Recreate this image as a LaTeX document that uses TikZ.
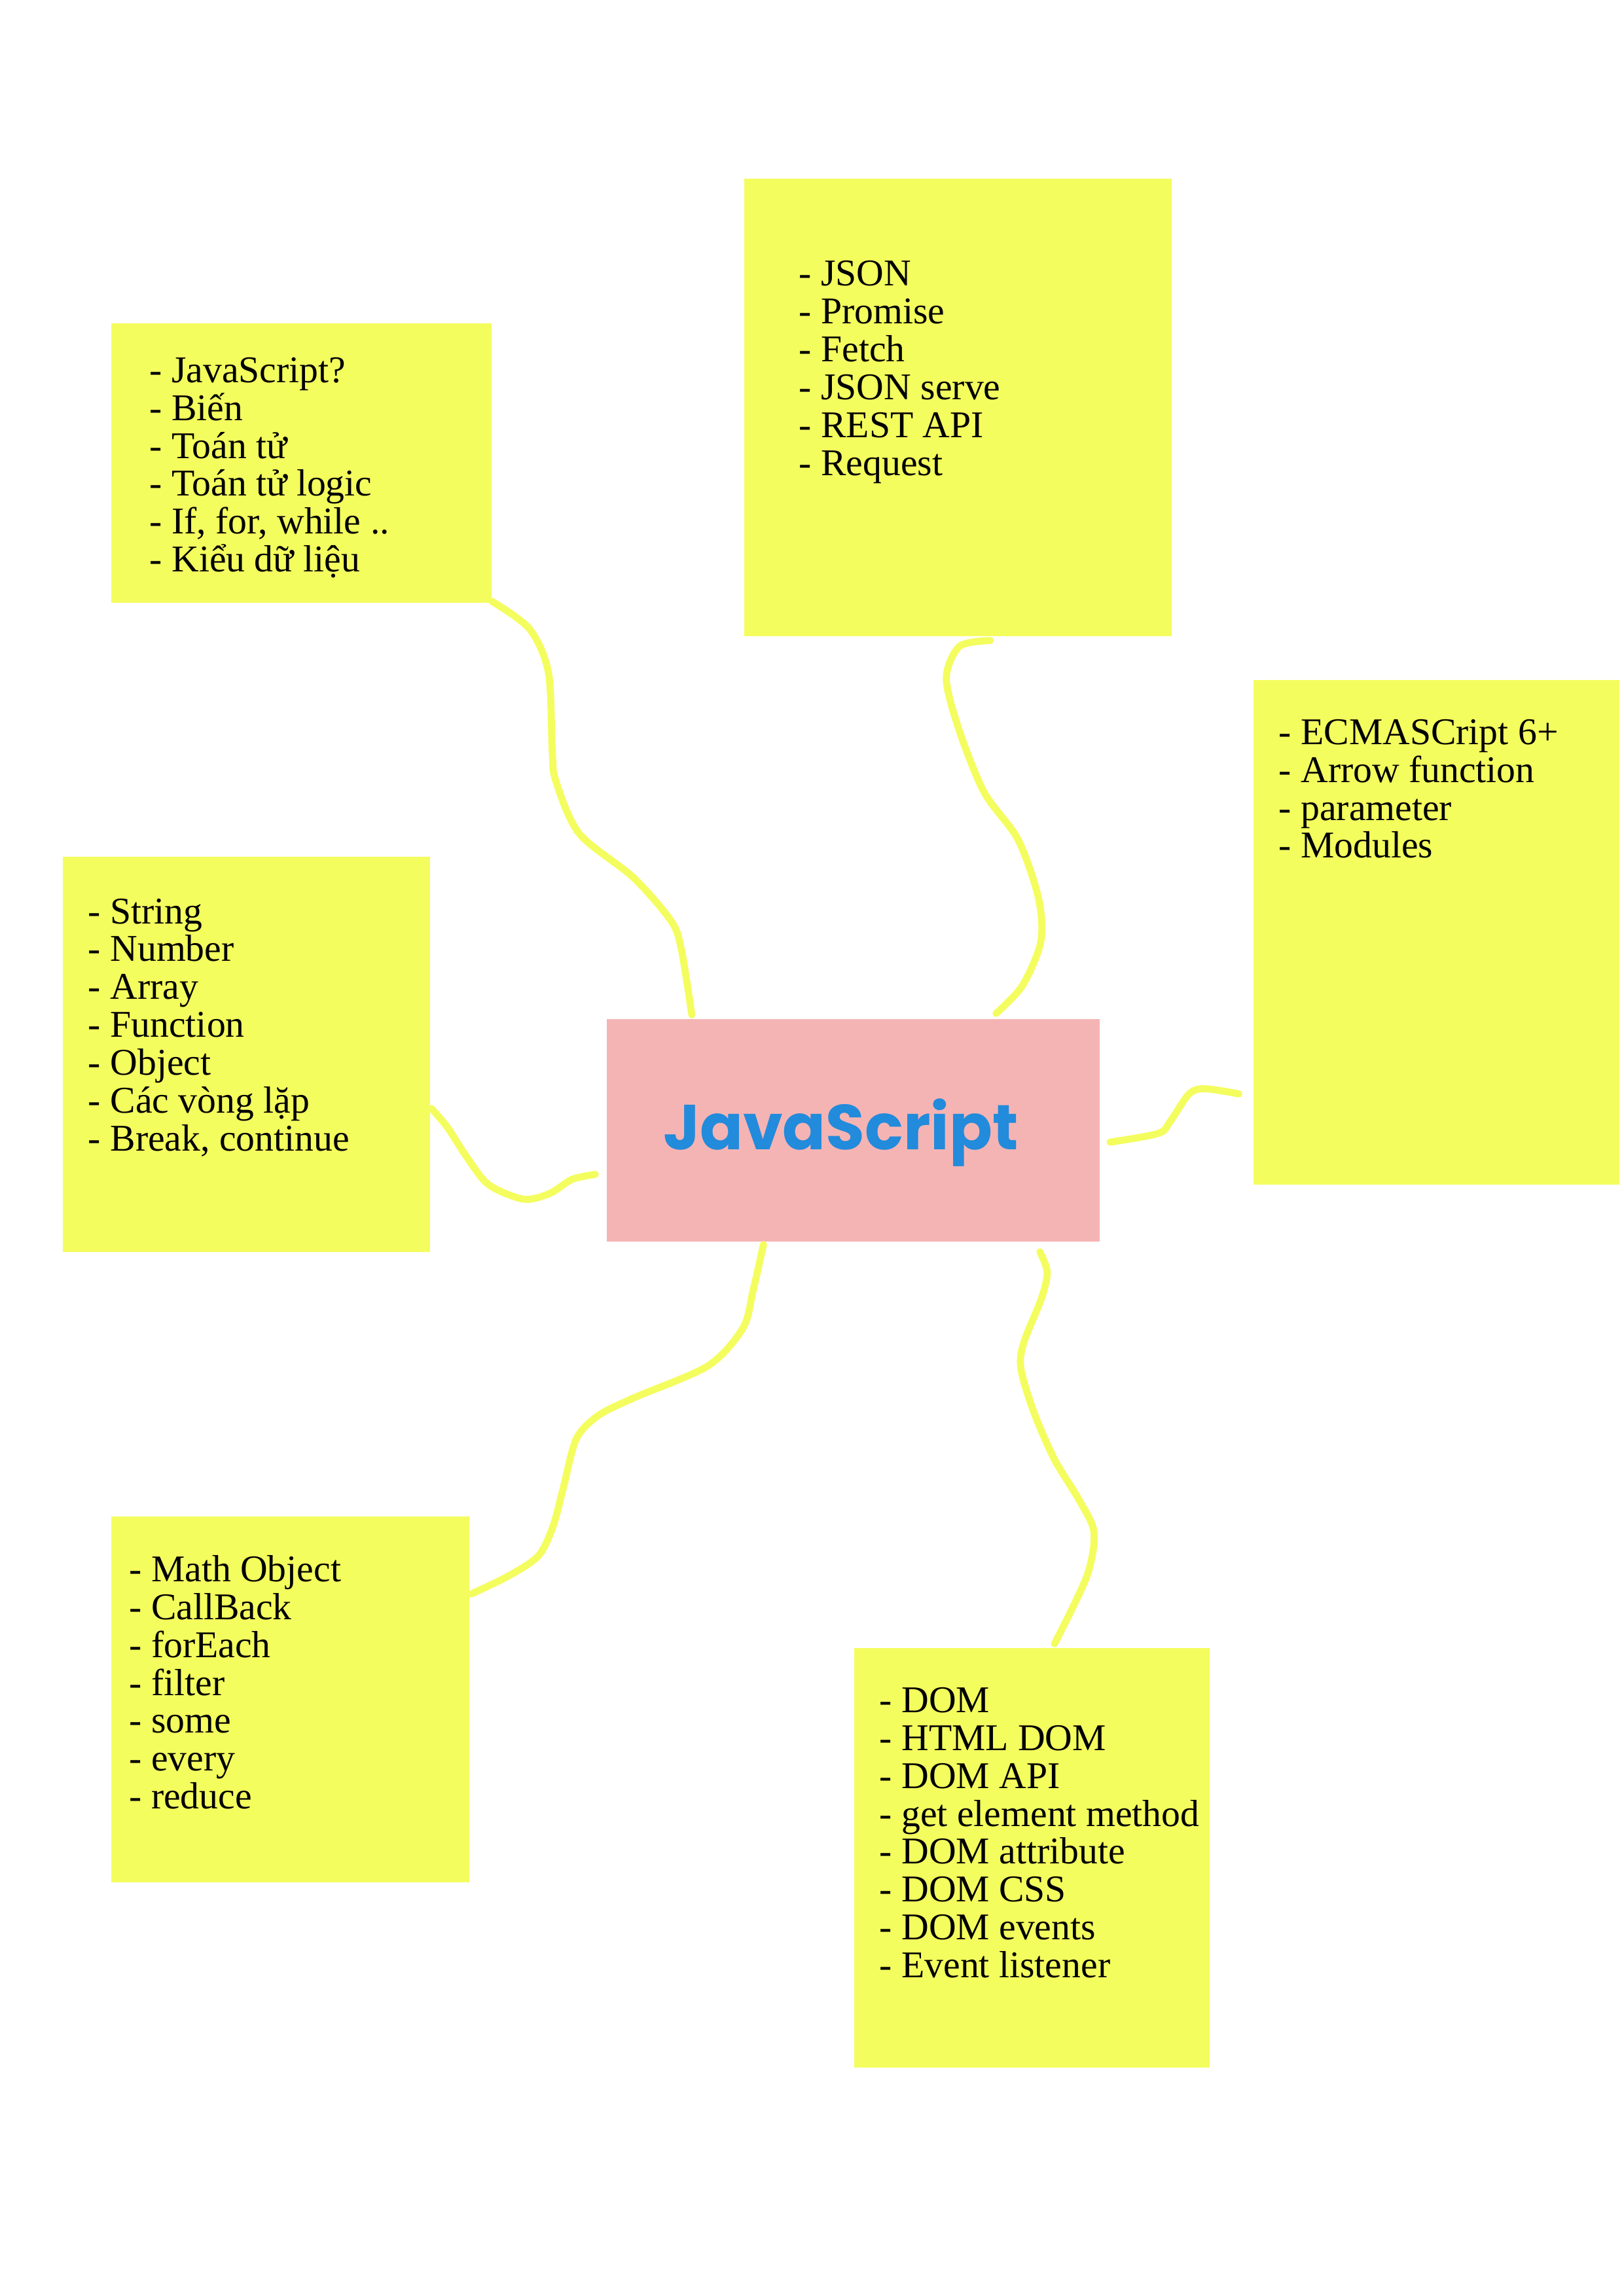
\documentclass[tikz,border=0pt]{standalone}
\usepackage{fontspec}
\setmainfont{Liberation Serif}
\newfontfamily\jsfont{Poppins}
\usetikzlibrary{fit}

\definecolor{noteyellow}{RGB}{244,253,94}
\definecolor{rootpink}{RGB}{245,180,180}
\definecolor{rootblue}{RGB}{34,139,219}

\newcommand{\itemlist}[1]{\parbox[t]{7cm}{\raggedright\fontsize{13.9}{13.94}\selectfont #1}}

\begin{document}
\begin{tikzpicture}
        [
            x = 0.189189mm, y = -0.189189mm,
            note/.style = {fill = noteyellow, inner sep = 0pt},
            root/.style = {fill = rootpink, inner sep = 0pt},
            items/.style = {anchor = base west, inner sep = 0pt},
            link/.style = {draw = noteyellow, line width = 2.6pt, line cap = round, line join = round}
        ]
        \useasboundingbox (0,0) rectangle (1110,1570);

        \node [root, fit = {(415,697) (752,849)}] (js) {};
        \node [anchor = base west, inner sep = 0pt, text = rootblue] (jsText) at (453,786)
            {\jsfont\bfseries\fontsize{23.4}{24}\selectfont JavaScript};

        \node [note, fit = {(76,221) (336,412)}] (basics) {};
        \node [items] (basicsText) at (102,261.5)
            {\itemlist{- JavaScript?\\- Biến\\- Toán tử\\- Toán tử logic\\- If, for, while ..\\- Kiểu dữ liệu}};

        \node [note, fit = {(509,122) (801,435)}] (async) {};
        \node [items] (asyncText) at (546,195.5)
            {\itemlist{- JSON\\- Promise\\- Fetch\\- JSON serve\\- REST API\\- Request}};

        \node [note, fit = {(857,465) (1107,810)}] (esnext) {};
        \node [items] (esnextText) at (874,509)
            {\itemlist{- ECMASCript 6+\\- Arrow function\\- parameter\\- Modules}};

        \node [note, fit = {(43,586) (294,856)}] (types) {};
        \node [items] (typesText) at (60,631.5)
            {\itemlist{- String\\- Number\\- Array\\- Function\\- Object\\- Các vòng lặp\\- Break, continue}};

        \node [note, fit = {(76,1037) (321,1287)}] (arrays) {};
        \node [items] (arraysText) at (88,1081.5)
            {\itemlist{- Math Object\\- CallBack\\- forEach\\- filter\\- some\\- every\\- reduce}};

        \node [note, fit = {(584,1127) (827,1414)}] (dom) {};
        \node [items] (domText) at (601,1171)
            {\itemlist{- DOM\\- HTML DOM\\- DOM API\\- get element method\\- DOM attribute\\- DOM CSS\\- DOM events\\- Event listener}};

        \coordinate (basicsEnd) at (336,411);
        \coordinate (jsTopLeft) at (473,694);
        \coordinate (asyncEnd) at (677,438);
        \coordinate (jsTopRight) at (681,693);
        \coordinate (jsRight) at (759,781);
        \coordinate (esnextEnd) at (847,748);
        \coordinate (typesEnd) at (295,758);
        \coordinate (jsLeft) at (407,803);
        \coordinate (jsBottomLeft) at (522,851);
        \coordinate (arraysEnd) at (322,1090);
        \coordinate (jsBottomRight) at (711,856);
        \coordinate (domEnd) at (721,1124);

        \draw [link] plot [smooth] coordinates {(basicsEnd) (362,430) (375,460) (377.6,514) (380,534) (396,570) (433,600) (459,630) (466,650) (jsTopLeft)};
        \draw [link] plot [smooth] coordinates {(asyncEnd) (656,442) (647,464) (656,500) (673,542) (696,574) (710,614) (711.6,644) (699,674) (jsTopRight)};
        \draw [link] plot [smooth] coordinates {(jsRight) (792,775) (800,767) (813,748) (824,744.5) (esnextEnd)};
        \draw [link] plot [smooth] coordinates {(typesEnd) (306,771) (319,791) (334,810) (358,820) (376,816) (391,806.5) (jsLeft)};
        \draw [link] plot [smooth] coordinates {(jsBottomLeft) (515,882) (508,908) (484,934) (433,956) (409,968) (394,984) (385,1018) (378,1044) (368,1064) (347,1078) (arraysEnd)};
        \draw [link] plot [smooth] coordinates {(jsBottomRight) (716,870) (712,888) (700,918) (698,936) (707,966) (721,998) (738,1026) (748,1048) (743,1078) (domEnd)};
\end{tikzpicture}
\end{document}
